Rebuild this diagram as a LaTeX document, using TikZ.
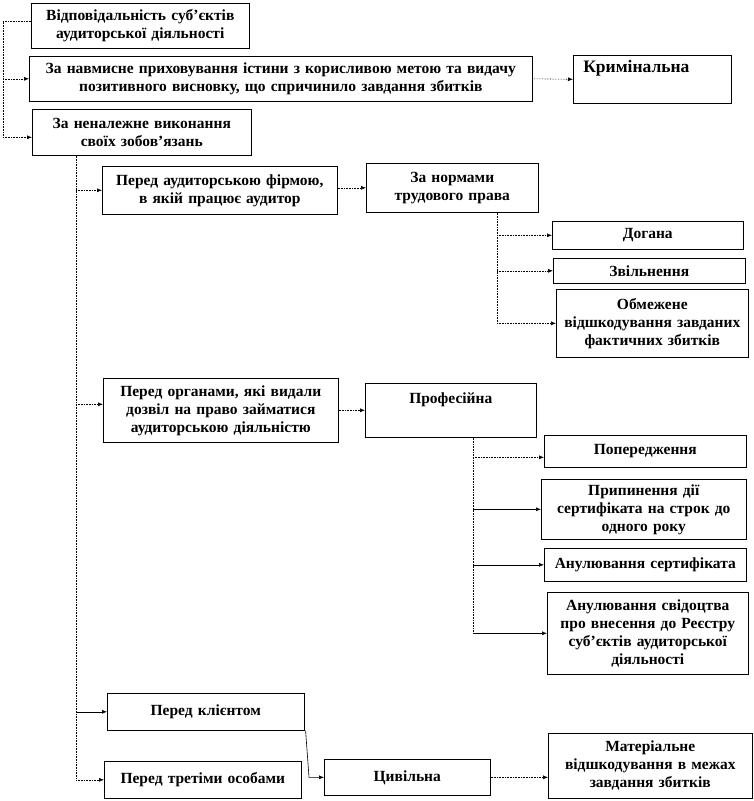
\documentclass[tikz,border=0pt]{standalone}
\usepackage{fontspec}
\setmainfont{Liberation Serif}
\usetikzlibrary{arrows.meta}

\begin{document}
\begin{tikzpicture}[x=1pt,y=-1pt,>={Latex[length=5pt,width=4pt]},
  b/.style={draw=black,line width=0.6pt,anchor=north west,inner xsep=0pt,inner ysep=2pt,align=center,font=\bfseries\fontsize{15.5}{18}\selectfont},
  sz/.style 2 args={text width=#1pt,minimum height=#2pt},
  sl/.style={->,line width=0.6pt},
  dl/.style={->,line width=0.6pt,densely dotted},
  dd/.style={line width=0.6pt,densely dotted}]
\useasboundingbox (0,0) rectangle (753,801);
\node[b,sz={218}{45}] (resp) at (31,3) {Відповідальність суб’єктів\\ аудиторської діяльності};
\node[b,sz={503}{45}] (krym1) at (29,56) {За навмисне приховування істини з корисливою метою та видачу\\ позитивного висновку, що спричинило завдання збитків};
\node[b,sz={158}{48},align=left,font=\bfseries\fontsize{17.5}{20}\selectfont] (krym) at (573,55) {\hspace*{10pt}Кримінальна\\ \strut};
\node[b,sz={219}{46}] (nenal) at (32,109) {За неналежне виконання\\ своїх зобов’язань};
\node[b,sz={235}{48}] (firm) at (102,166) {Перед аудиторською фірмою,\\ в якій працює аудитор};
\node[b,sz={172}{49}] (trud) at (366,163) {За нормами\\ трудового права};
\node[b,sz={191}{28}] (dog) at (552,221) {Догана};
\node[b,sz={192}{25}] (zvil) at (553,258) {Звільнення};
\node[b,sz={192}{68}] (obm) at (556,289) {Обмежене\\ відшкодування завданих\\ фактичних збитків};
\node[b,sz={235}{64}] (org) at (103,378) {Перед органами, які видали\\ дозвіл на право займатися\\ аудиторською діяльністю};
\node[b,sz={171}{54}] (prof) at (365,383) {Професійна\\ \strut};
\node[b,sz={202}{32}] (pop) at (544,435) {Попередження};
\node[b,sz={205}{60}] (pryp) at (541,479) {Припинення дії\\ сертифіката на строк до\\ одного року};
\node[b,sz={202}{33}] (ansert) at (544,548) {Анулювання сертифіката};
\node[b,sz={201}{82}] (ansvid) at (547,592) {Анулювання свідоцтва\\ про внесення до Реєстру\\ суб’єктів аудиторської\\ діяльності};
\node[b,sz={197}{37}] (kl) at (107,693) {Перед клієнтом};
\node[b,sz={197}{37}] (tr) at (104,761) {Перед третіми особами};
\node[b,sz={166}{36}] (tsv) at (324,759) {Цивільна};
\node[b,sz={204}{65}] (mat) at (548,733) {Матеріальне\\ відшкодування в межах\\ завдання збитків};
\coordinate (lsp) at (3,0); \coordinate (msp) at (76,0);
\coordinate (tsp) at (497,0); \coordinate (psp) at (473,0);
\coordinate (nw) at ([yshift=-5]nenal.west); \coordinate (ow) at ([yshift=6]org.west);
\coordinate (pw) at ([yshift=-6]pop.west);
\draw[dd] ([yshift=5]resp.west) -| (lsp |- nw);
\draw[dl] (lsp |- krym1.west) -- (krym1.west); \draw[dl] (lsp |- nw) -- (nw);
\draw[dl] (krym1.east) -- (krym.west);
\draw[dd] (msp |- nenal.south) -- (msp |- tr.west);
\draw[dl] (msp |- firm.west) -- (firm.west); \draw[dl] (msp |- ow) -- (ow);
\draw[sl] (msp |- kl.west) -- (kl.west); \draw[dl] (msp |- tr.west) -- (tr.west);
\draw[dl] (firm.east |- trud.west) -- (trud.west);
\draw[dd] (tsp |- trud.south) -- (tsp |- obm.west);
\draw[dl] (tsp |- dog.west) -- (dog.west); \draw[dl] (tsp |- zvil.west) -- (zvil.west);
\draw[dl] (tsp |- obm.west) -- (obm.west);
\draw[dl] (org.east) -- (prof.west);
\draw[dd] (psp |- prof.south) -- (psp |- ansvid.west);
\draw[dl] (psp |- pw) -- (pw); \draw[sl] (psp |- pryp.west) -- (pryp.west);
\draw[sl] (psp |- ansert.west) -- (ansert.west); \draw[sl] (psp |- ansvid.west) -- (ansvid.west);
\draw[sl] ([xshift=1]kl.south east) -- ([xshift=-15]tsv.west) -- (tsv.west);
\draw[dl] (tsv.east) -- (tsv.east -| mat.west);
\end{tikzpicture}
\end{document}
